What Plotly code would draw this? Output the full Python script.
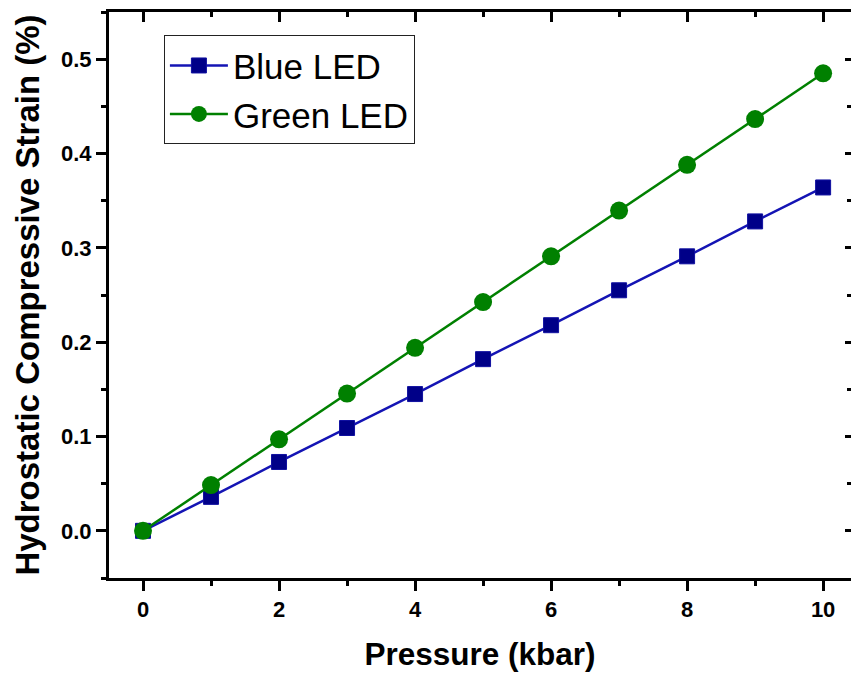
import plotly.graph_objects as go

pressure = [0, 1, 2, 3, 4, 5, 6, 7, 8, 9, 10]
blue_led = [0.0, 0.036, 0.073, 0.109, 0.145, 0.182, 0.218, 0.255, 0.291, 0.328, 0.364]
green_led = [0.0, 0.0485, 0.097, 0.1455, 0.194, 0.2425, 0.291, 0.3395, 0.388, 0.4365, 0.485]
x_ticks = [0, 2, 4, 6, 8, 10]
y_ticks = [0.0, 0.1, 0.2, 0.3, 0.4, 0.5]

FONT = "Liberation Sans"
xr = [-0.5, 10.41]
yr = [-0.05, 0.55]

fig = go.Figure()
fig.add_trace(go.Scatter(
    x=pressure, y=blue_led, name="Blue LED", mode="lines+markers",
    line=dict(color="#1414b4", width=2.5),
    marker=dict(symbol="square", size=15, color="#000088",
                line=dict(width=1, color="#1010a0")),
))
fig.add_trace(go.Scatter(
    x=pressure, y=green_led, name="Green LED", mode="lines+markers",
    line=dict(color="#008000", width=2.5),
    marker=dict(symbol="circle", size=18, color="#008000"),
))
fig.add_trace(go.Scatter(x=[None], y=[None], xaxis="x2", yaxis="y2",
                         showlegend=False, hoverinfo="skip"))

fig.update_layout(
    width=851, height=678,
    margin=dict(l=109, r=0, t=12, b=100),
    paper_bgcolor="white", plot_bgcolor="white",
    font=dict(family=FONT, color="black"),
    showlegend=True,
    legend=dict(
        x=0.074, y=0.959, xanchor="left", yanchor="top",
        font=dict(size=35, family=FONT, color="black"),
        bordercolor="#222222", borderwidth=1, bgcolor="white",
        tracegroupgap=0, itemwidth=58,
    ),
    xaxis=dict(
        range=xr, tickvals=x_ticks, ticktext=[str(v) for v in x_ticks],
        showgrid=False, zeroline=False, showline=True, linecolor="black", linewidth=3,
        ticks="outside", ticklen=10, tickwidth=2.5, tickcolor="black",
        minor=dict(dtick=1, tick0=0, ticks="outside", ticklen=5, tickwidth=2.5, tickcolor="black", showgrid=False),
        tickfont=dict(size=22, family=FONT, color="black", weight="bold"),
        title=dict(text="<b>Pressure (kbar)</b>", font=dict(size=31.5, family=FONT, color="black"), standoff=22),
    ),
    yaxis=dict(
        range=yr, tickvals=y_ticks, ticktext=[f"{v:.1f}" for v in y_ticks],
        showgrid=False, zeroline=False, showline=True, linecolor="black", linewidth=3,
        ticks="outside", ticklen=10, tickwidth=2.5, tickcolor="black",
        minor=dict(dtick=0.05, tick0=0, ticks="outside", ticklen=5, tickwidth=2.5, tickcolor="black", showgrid=False),
        tickfont=dict(size=22, family=FONT, color="black", weight="bold"),
        title=dict(text="<b>Hydrostatic Compressive Strain (%)</b>", font=dict(size=33, family=FONT, color="black"), standoff=12),
    ),
    xaxis2=dict(
        range=xr, overlaying="x", side="top", anchor="y2",
        tickvals=x_ticks, showticklabels=False,
        showgrid=False, zeroline=False, showline=True, linecolor="black", linewidth=3,
        ticks="inside", ticklen=10, tickwidth=2.5, tickcolor="black",
        minor=dict(dtick=1, tick0=0, ticks="inside", ticklen=5, tickwidth=2.5, tickcolor="black", showgrid=False),
    ),
    yaxis2=dict(
        range=yr, overlaying="y", side="right", anchor="x2",
        tickvals=y_ticks, showticklabels=False,
        showgrid=False, zeroline=False, showline=False,
        ticks="inside", ticklen=6, tickwidth=2.5, tickcolor="black",
        minor=dict(dtick=0.05, tick0=0, ticks="inside", ticklen=4, tickwidth=2.5, tickcolor="black", showgrid=False),
    ),
)

fig.write_html("out.html")
